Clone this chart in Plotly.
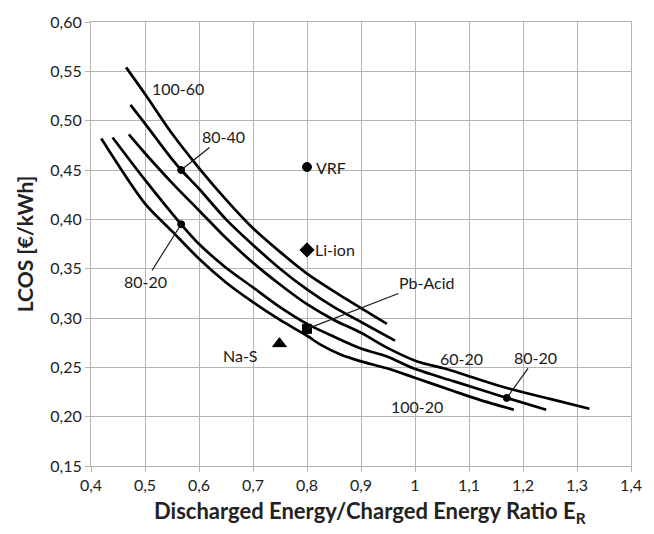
import plotly.graph_objects as go

# ---- data ----
x_100_60 = [0.465, 0.50, 0.55, 0.60, 0.65, 0.70, 0.75, 0.80, 0.85, 0.90, 0.948]
y_100_60 = [0.554, 0.527, 0.487, 0.452, 0.420, 0.391, 0.367, 0.345, 0.327, 0.310, 0.294]

x_80_40 = [0.473, 0.50, 0.55, 0.567, 0.60, 0.65, 0.70, 0.75, 0.80, 0.85, 0.90, 0.963]
y_80_40 = [0.516, 0.497, 0.461, 0.450, 0.431, 0.400, 0.374, 0.350, 0.329, 0.311, 0.296, 0.277]

x_60_20 = [0.470, 0.50, 0.55, 0.60, 0.65, 0.70, 0.75, 0.80, 0.85, 0.90, 0.948, 1.004, 1.053, 1.10, 1.17, 1.25, 1.323]
y_60_20 = [0.486, 0.467, 0.437, 0.409, 0.381, 0.356, 0.334, 0.314, 0.298, 0.285, 0.270, 0.256, 0.249, 0.241, 0.229, 0.218, 0.208]

x_80_20 = [0.440, 0.50, 0.567, 0.60, 0.65, 0.70, 0.75, 0.80, 0.85, 0.90, 0.948, 0.997, 1.071, 1.17, 1.243]
y_80_20 = [0.483, 0.440, 0.395, 0.375, 0.351, 0.331, 0.311, 0.294, 0.281, 0.269, 0.261, 0.249, 0.236, 0.219, 0.207]

x_100_20 = [0.419, 0.50, 0.55, 0.60, 0.65, 0.70, 0.75, 0.80, 0.825, 0.862, 0.90, 0.948, 0.997, 1.071, 1.12, 1.183]
y_100_20 = [0.482, 0.416, 0.388, 0.360, 0.336, 0.316, 0.298, 0.282, 0.273, 0.263, 0.256, 0.249, 0.240, 0.226, 0.217, 0.207]

# highlighted points on curves
dot_x = [0.567, 0.567, 1.17]
dot_y = [0.450, 0.395, 0.219]

# technologies
tech_names = ["VRF", "Li-ion", "Pb-Acid", "Na-S"]
tech_x = [0.80, 0.80, 0.80, 0.749]
tech_y = [0.453, 0.369, 0.289, 0.274]
tech_symbols = ["circle", "diamond", "square", "triangle-up"]

x_tickvals = [0.4, 0.5, 0.6, 0.7, 0.8, 0.9, 1.0, 1.1, 1.2, 1.3, 1.4]
x_ticktext = ["0,4", "0,5", "0,6", "0,7", "0,8", "0,9", "1", "1,1", "1,2", "1,3", "1,4"]
y_tickvals = [0.15, 0.20, 0.25, 0.30, 0.35, 0.40, 0.45, 0.50, 0.55, 0.60]
y_ticktext = ["0,15", "0,20", "0,25", "0,30", "0,35", "0,40", "0,45", "0,50", "0,55", "0,60"]

x_title = "Discharged Energy/Charged Energy Ratio E<sub>R</sub>"
y_title = "LCOS [€/kWh]"

FONT = "Lato, Carlito, Calibri, sans-serif"

fig = go.Figure()
for xs, ys in [(x_100_60, y_100_60), (x_80_40, y_80_40), (x_60_20, y_60_20),
               (x_80_20, y_80_20), (x_100_20, y_100_20)]:
    fig.add_trace(go.Scatter(x=xs, y=ys, mode="lines",
                             line=dict(color="black", width=2.7, shape="spline", smoothing=0.8),
                             showlegend=False, hoverinfo="skip"))

fig.add_trace(go.Scatter(x=dot_x, y=dot_y, mode="markers",
                         marker=dict(color="black", size=7, symbol="circle",
                                     line=dict(color="black", width=1), opacity=1),
                         showlegend=False))

tech_sizes = [9, 11, 9, 12]
fig.add_trace(go.Scatter(x=tech_x, y=tech_y, mode="markers",
                         marker=dict(color="black", size=tech_sizes, symbol=tech_symbols,
                                     line=dict(color="black", width=1), opacity=1),
                         showlegend=False))

tf = dict(family=FONT, size=16, color="#1a1a1a")

# curve labels
fig.add_annotation(x=0.562, y=0.533, text="100-60", showarrow=False, font=tf)
fig.add_annotation(x=1.087, y=0.259, text="60-20", showarrow=False, font=tf)
fig.add_annotation(x=1.003, y=0.210, text="100-20", showarrow=False, font=tf)

# labels with pointer lines
arrow_kw = dict(showarrow=True, arrowhead=0, arrowwidth=1.2, arrowcolor="#1a1a1a",
                axref="x", ayref="y", font=tf, standoff=0, startstandoff=0)
fig.add_annotation(x=dot_x[0], y=dot_y[0], ax=0.645, ay=0.484, text="80-40", **arrow_kw)
fig.add_annotation(x=dot_x[1], y=dot_y[1], ax=0.500, ay=0.337, text="80-20", **arrow_kw)
fig.add_annotation(x=dot_x[2], y=dot_y[2], ax=1.224, ay=0.260, text="80-20", **arrow_kw)
fig.add_annotation(x=tech_x[2], y=tech_y[2], ax=1.022, ay=0.336, text=tech_names[2], **arrow_kw)

# technology labels
fig.add_annotation(x=tech_x[0], y=tech_y[0], text=tech_names[0], showarrow=False,
                   xanchor="left", xshift=7, font=tf)
fig.add_annotation(x=tech_x[1], y=tech_y[1], text=tech_names[1], showarrow=False,
                   xanchor="left", xshift=6, font=tf)
fig.add_annotation(x=tech_x[3], y=tech_y[3], text=tech_names[3], showarrow=False,
                   xanchor="right", xshift=-19, yshift=-12, font=tf)

# x-axis title (slightly right of plot centre, as in the reference)
fig.add_annotation(xref="paper", yref="paper", x=0.517, y=-0.066, text=x_title,
                   showarrow=False, xanchor="center", yanchor="top",
                   font=dict(family=FONT, size=22, color="#222", weight="bold"))

grid = "#b4b4b4"
fig.update_xaxes(range=[0.4, 1.4], tickvals=x_tickvals, ticktext=x_ticktext,
                 showgrid=True, gridcolor=grid, gridwidth=1,
                 showline=True, linecolor=grid, linewidth=1, mirror=True,
                 ticks="outside", ticklen=5, tickcolor=grid, zeroline=False,
                 tickfont=dict(family=FONT, size=16, color="#222"))
fig.update_yaxes(range=[0.15, 0.60], tickvals=y_tickvals, ticktext=y_ticktext,
                 showgrid=True, gridcolor=grid, gridwidth=1,
                 showline=True, linecolor=grid, linewidth=1, mirror=True,
                 ticks="outside", ticklen=5, tickcolor=grid, zeroline=False,
                 tickfont=dict(family=FONT, size=16, color="#222"),
                 title=dict(text=y_title,
                            font=dict(family=FONT, size=21, color="#222", weight="bold"),
                            standoff=10))

fig.update_layout(width=654, height=534, margin=dict(l=91, r=23, t=16, b=68),
                  paper_bgcolor="white", plot_bgcolor="white", showlegend=False)

fig.write_html("out.html")
